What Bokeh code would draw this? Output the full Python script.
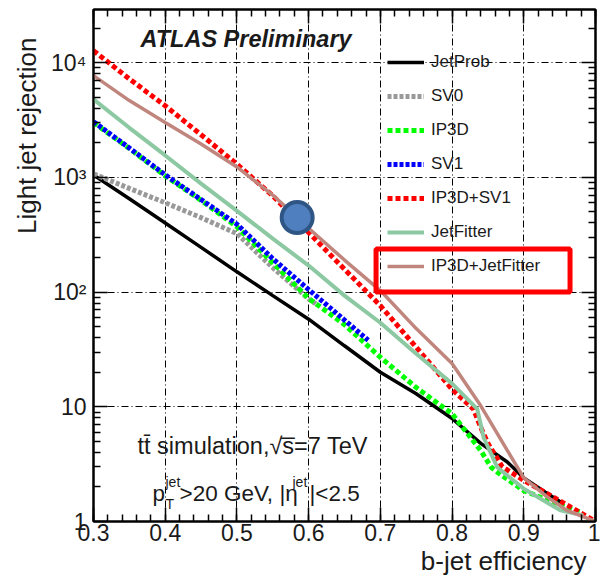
from bokeh.plotting import figure
from bokeh.models import (Range1d, FixedTicker, LogAxis, LinearAxis, Label, Legend,
                          LegendItem, BoxAnnotation, CustomJSTickFormatter, Title)
from bokeh.embed import file_html
from bokeh.resources import INLINE

FONT = "Liberation Sans"
TXT = "#1a1a1a"

# ---------------- data ----------------
eff_jetprob = [0.30, 0.35, 0.40, 0.45, 0.50, 0.55, 0.60, 0.65, 0.70, 0.75, 0.80, 0.84, 0.877, 0.90, 0.93, 0.954]
rej_jetprob = [1050, 650, 400, 245, 150, 93, 58, 34, 20, 13, 7.9, 4.8, 3.3, 2.4, 1.8, 1.44]

eff_sv0 = [0.30, 0.35, 0.40, 0.45, 0.50, 0.55, 0.60, 0.61]
rej_sv0 = [1070, 800, 600, 445, 323, 163, 87, 79]

eff_ip3d = [0.30, 0.35, 0.40, 0.45, 0.50, 0.55, 0.60, 0.65, 0.70, 0.75, 0.80, 0.84, 0.855, 0.87, 0.90, 0.935, 0.98]
rej_ip3d = [3000, 1780, 1030, 630, 370, 180, 88, 52, 27, 14.7, 8.7, 4.15, 2.95, 2.5, 1.86, 1.52, 1.2]

eff_sv1 = [0.30, 0.35, 0.40, 0.45, 0.50, 0.55, 0.60, 0.65, 0.683]
rej_sv1 = [3050, 1800, 1050, 640, 390, 195, 105, 57, 38]

eff_ip3dsv1 = [0.30, 0.35, 0.40, 0.45, 0.50, 0.55, 0.60, 0.65, 0.70, 0.75, 0.80, 0.83, 0.84, 0.85, 0.87, 0.90, 0.95, 1.00]
rej_ip3dsv1 = [12700, 7200, 4200, 2350, 1300, 690, 330, 158, 76, 33, 14.2, 9.5, 6.6, 4.8, 3.0, 2.28, 1.52, 1.0]

eff_jetfitter = [0.30, 0.35, 0.40, 0.45, 0.50, 0.55, 0.60, 0.65, 0.70, 0.75, 0.80, 0.835, 0.844, 0.863, 0.90, 0.951, 0.983]
rej_jetfitter = [4780, 2700, 1550, 880, 510, 292, 170, 93, 54, 29, 15.9, 9.6, 5.4, 2.97, 1.93, 1.25, 1.13]

eff_ip3djf = [0.30, 0.35, 0.40, 0.45, 0.50, 0.55, 0.60, 0.65, 0.70, 0.75, 0.80, 0.84, 0.855, 0.877, 0.90, 0.933, 0.96, 1.00]
rej_ip3djf = [7700, 4660, 3000, 1950, 1230, 700, 360, 190, 103, 48, 23.8, 10.2, 7.1, 4.16, 2.4, 1.63, 1.25, 1.0]

series_names = ["JetProb", "SV0", "IP3D", "SV1", "IP3D+SV1", "JetFitter", "IP3D+JetFitter"]

# highlighted working point and highlighted legend entry
HIGHLIGHT_EFF, HIGHLIGHT_REJ = 0.584, 446
BOX_EFF = (0.694, 0.9645)
BOX_REJ = (100, 237)

x_major = [0.3, 0.4, 0.5, 0.6, 0.7, 0.8, 0.9, 1.0]
x_minor = [round(0.3 + 0.02 * i, 2) for i in range(36)]
y_major = [1, 10, 100, 1000, 10000]
y_minor = [m * 10 ** k for k in range(0, 5) for m in range(2, 10) if m * 10 ** k < 29000]
y_tick_labels = {1: "1", 10: "10", 100: "10\u00b2", 1000: "10\u00b3", 10000: "10\u2074"}

# ---------------- figure ----------------
p = figure(width=600, height=580, output_backend="svg", toolbar_location=None,
           x_range=Range1d(0.3, 1.0), y_range=Range1d(1, 29000), y_axis_type="log",
           min_border_left=93, min_border_right=5, min_border_top=9, min_border_bottom=59)
p.background_fill_color = "white"
p.border_fill_color = "white"
p.outline_line_color = "black"
p.outline_line_width = 2

p.add_layout(LogAxis(), "right")
p.add_layout(LinearAxis(), "above")

xt = FixedTicker(ticks=x_major, minor_ticks=x_minor)
yt = FixedTicker(ticks=y_major, minor_ticks=y_minor)
blank = CustomJSTickFormatter(code="return ''")

for ax in p.xaxis:
    ax.ticker = xt
for ax in p.yaxis:
    ax.ticker = yt
for ax in list(p.xaxis) + list(p.yaxis):
    ax.axis_line_color = "black"
    ax.axis_line_width = 2
    ax.major_tick_in = 14
    ax.major_tick_out = 0
    ax.minor_tick_in = 7
    ax.minor_tick_out = 0
    ax.major_tick_line_width = 1.5
    ax.minor_tick_line_width = 1.5
    ax.major_tick_line_color = "black"
    ax.minor_tick_line_color = "black"

bottom = p.below[0]
bottom.major_label_text_font = FONT
bottom.major_label_text_font_size = "23px"
bottom.major_label_text_color = TXT
bottom.major_label_standoff = 2
bottom.major_label_overrides = {1: "1"}

left = p.left[0]
left.major_label_text_font = FONT
left.major_label_text_font_size = "23px"
left.major_label_text_color = TXT
left.major_label_standoff = 7
left.major_label_overrides = y_tick_labels

for ax in [p.above[0], p.right[0]]:
    ax.formatter = blank
    ax.major_label_text_font_size = "0px"
    ax.major_label_standoff = 0

p.xgrid.ticker = xt
p.ygrid.ticker = yt
for g in [p.xgrid[0], p.ygrid[0]]:
    g.grid_line_color = "black"
    g.grid_line_width = 1
    g.grid_line_dash = "7 3 1 3"

# axis titles
p.add_layout(Title(text="Light jet rejection", align="right", offset=28, standoff=13,
                   text_font=FONT, text_font_size="26px", text_font_style="normal",
                   text_color=TXT), "left")
p.add_layout(Title(text="b-jet efficiency", align="right", offset=9, standoff=0,
                   text_font=FONT, text_font_size="26px", text_font_style="normal",
                   text_color=TXT), "below")

# ---------------- curves ----------------
styles = [
    (eff_jetprob, rej_jetprob, "black", 3.5, "solid"),
    (eff_sv0, rej_sv0, "#999999", 5, "4 2"),
    (eff_ip3d, rej_ip3d, "#00ff00", 5, "5 3"),
    (eff_sv1, rej_sv1, "#0000ff", 5, "4 2"),
    (eff_ip3dsv1, rej_ip3dsv1, "#ff0000", 5, "5 3"),
    (eff_jetfitter, rej_jetfitter, "#8cc9a3", 4, "solid"),
    (eff_ip3djf, rej_ip3djf, "#c0867e", 3.5, "solid"),
]
items = []
for name, (xs, ys, col, lw, dash) in zip(series_names, styles):
    r = p.line(xs, ys, line_color=col, line_width=lw, line_dash=dash)
    items.append(LegendItem(label=name, renderers=[r]))

p.scatter([HIGHLIGHT_EFF], [HIGHLIGHT_REJ], size=31, fill_color="#4f7fbf",
          line_color="#2f5584", line_width=4)

legend = Legend(items=items, location=(294, 245), glyph_width=37, glyph_height=20,
                label_height=20, spacing=14, padding=0, margin=0, label_standoff=7,
                label_text_font=FONT, label_text_font_size="17px", label_text_color=TXT,
                border_line_alpha=0, background_fill_alpha=0)
p.add_layout(legend)

p.add_layout(BoxAnnotation(left=BOX_EFF[0], right=BOX_EFF[1], bottom=BOX_REJ[0], top=BOX_REJ[1],
                           fill_alpha=0, line_color="#ff0000", line_alpha=1.0, line_width=5))

# ---------------- in-plot texts ----------------
def lab(text, x, y, size, baseline="middle", style="normal"):
    p.add_layout(Label(x=x, y=y, x_units="screen", y_units="screen", text=text,
                       text_font=FONT, text_font_size=size, text_align="left",
                       text_baseline=baseline, text_font_style=style, text_color=TXT))

lab("ATLAS Preliminary", 47, 483, "23.5px", style="bold italic")
lab("tt\u0304 simulation,\u221as\u0305=7 TeV", 44, 76, "23.5px")
lab("p", 59, 28, "22.5px", baseline="alphabetic")
lab("jet", 72, 40, "14px", baseline="alphabetic")
lab("T", 72, 18, "14px", baseline="alphabetic")
lab(">20 GeV, |\u03b7", 86, 28, "22.5px", baseline="alphabetic")
lab("jet", 199, 40, "14px", baseline="alphabetic")
lab("|<2.5", 216, 28, "22.5px", baseline="alphabetic")

open("out.html", "w").write(file_html(p, INLINE))
